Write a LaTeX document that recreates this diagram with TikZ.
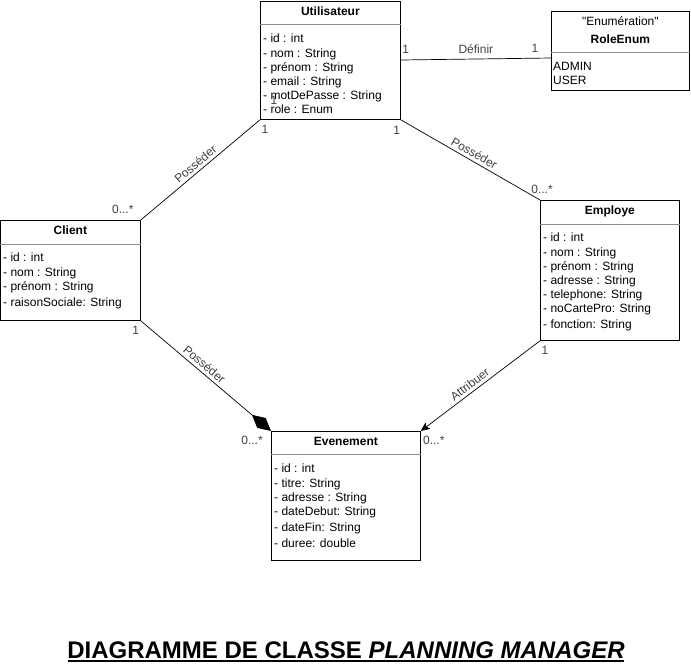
\documentclass[tikz,border=0pt]{standalone}
\usepackage{fontspec}
\setmainfont{Liberation Sans}[Ligatures=TeXOff]
\usetikzlibrary{shapes,arrows,arrows.meta,positioning,calc}

\begin{document}
\begin{tikzpicture}[x=1pt, y=-1pt]
    \tikzstyle{classe} = [draw, line width=0.8pt, anchor=north west, inner sep=0pt]
    \tikzstyle{titre} = [font=\bfseries\fontsize{12}{14}\selectfont, inner sep=0pt]
    \tikzstyle{attr} = [font=\fontsize{12}{14.2}\selectfont, align=left, anchor=north west, inner sep=0pt]
    \tikzstyle{sep} = [draw=black!45, line width=0.6pt]
    \tikzstyle{lien} = [line width=0.7pt]
    \tikzstyle{etiq} = [font=\fontsize{12}{14}\selectfont, text=black!75, inner sep=1pt]
    \tikzstyle{mult} = [font=\fontsize{12}{14}\selectfont, text=black!75, inner sep=0pt]

    \useasboundingbox (0,0) rectangle (691,665);

    % Utilisateur
    \node[classe, minimum width=140pt, minimum height=118pt] (util) at (260,1) {};
    \node[titre] (utilT) at ($(util.north)+(0,10)$) {Utilisateur};
    \draw[sep] ($(util.north west)+(0,23)$) -- ($(util.north east)+(0,23)$);
    \node[attr] (utilA) at ($(util.north west)+(3,33)$) {- id : int\\- nom : String\\- prénom : String\\- email : String\\- motDePasse : String\\- role : Enum};
    \node[mult] (utilX) at ($(util.north west)+(14,99)$) {1};

    % RoleEnum
    \node[classe, minimum width=138pt, minimum height=79pt] (role) at (551,11) {};
    \node[font=\fontsize{12}{14}\selectfont, inner sep=0pt] (roleS) at ($(role.north)+(0,10)$) {"Enumération"};
    \node[titre] (roleT) at ($(role.north)+(0,28)$) {RoleEnum};
    \draw[sep] ($(role.north west)+(0,41)$) -- ($(role.north east)+(0,41)$);
    \node[attr] (roleA) at ($(role.north west)+(2,51)$) {ADMIN\\USER};

    % Client
    \node[classe, minimum width=140pt, minimum height=100pt] (client) at (0,220) {};
    \node[titre] (clientT) at ($(client.north)+(0,10)$) {Client};
    \draw[sep] ($(client.north west)+(0,24)$) -- ($(client.north east)+(0,24)$);
    \node[attr] (clientA) at ($(client.north west)+(3,33)$) {- id : int\\- nom : String\\- prénom : String\\[1.5pt]- raisonSociale: String};

    % Employe
    \node[classe, minimum width=139pt, minimum height=140pt] (emp) at (540,200) {};
    \node[titre] (empT) at ($(emp.north)+(0,11)$) {Employe};
    \draw[sep] ($(emp.north west)+(0,24)$) -- ($(emp.north east)+(0,24)$);
    \node[attr] (empA) at ($(emp.north west)+(3,33)$) {- id : int\\- nom : String\\- prénom : String\\- adresse : String\\- telephone: String\\- noCartePro: String\\[1.5pt]- fonction: String};

    % Evenement
    \node[classe, minimum width=149pt, minimum height=129pt] (even) at (271,431) {};
    \node[titre] (evenT) at ($(even.north)+(0,10)$) {Evenement};
    \draw[sep] ($(even.north west)+(0,23)$) -- ($(even.north east)+(0,23)$);
    \node[attr] (evenA) at ($(even.north west)+(3,33)$) {- id : int\\- titre: String\\- adresse : String\\- dateDebut: String\\[2pt]- dateFin: String\\[2pt]- duree: double};

    % Associations
    \draw[lien] ($(util.north east)+(0,59)$) -- ($(role.north west)+(0,47)$)
        node[etiq, midway, above=4pt] {Définir};
    \node[mult] at ($(util.north east)+(5,48)$) {1};
    \node[mult] at ($(role.north west)+(-16,37)$) {1};

    \draw[lien] (util.south west) -- (client.north east)
        node[etiq, midway, sloped, above=2pt] {Posséder};
    \node[mult] at ($(util.south west)+(5,10)$) {1};
    \node[mult] at ($(client.north east)+(-18,-11)$) {0...*};

    \draw[lien] (util.south east) -- (emp.north west)
        node[etiq, midway, sloped, above=2pt] {Posséder};
    \node[mult] at ($(util.south east)+(-4,11)$) {1};
    \node[mult] at ($(emp.north west)+(2,-11)$) {0...*};

    \draw[lien, -{Diamond[length=25pt, width=13pt]}] (client.south east) -- (even.north west)
        node[etiq, pos=0.45, sloped, above=2pt] {Posséder};
    \node[mult] at ($(client.south east)+(-5,10)$) {1};
    \node[mult] at ($(even.north west)+(-19,9)$) {0...*};

    \draw[lien, -{Stealth[length=9pt, width=8pt, inset=2pt]}] (emp.south west) -- (even.north east)
        node[etiq, pos=0.55, sloped, above=2pt] {Attribuer};
    \node[mult] at ($(emp.south west)+(5,10)$) {1};
    \node[mult] at ($(even.north east)+(13,9)$) {0...*};

    % Titre
    \node[font=\bfseries\fontsize{24}{28}\selectfont] (titre) at (346,650) {DIAGRAMME DE CLASSE \textit{PLANNING MANAGER}};
    \draw[line width=1.6pt] ($(titre.base west)+(4,3)$) -- ($(titre.base east)+(-4,3)$);
\end{tikzpicture}
\end{document}
